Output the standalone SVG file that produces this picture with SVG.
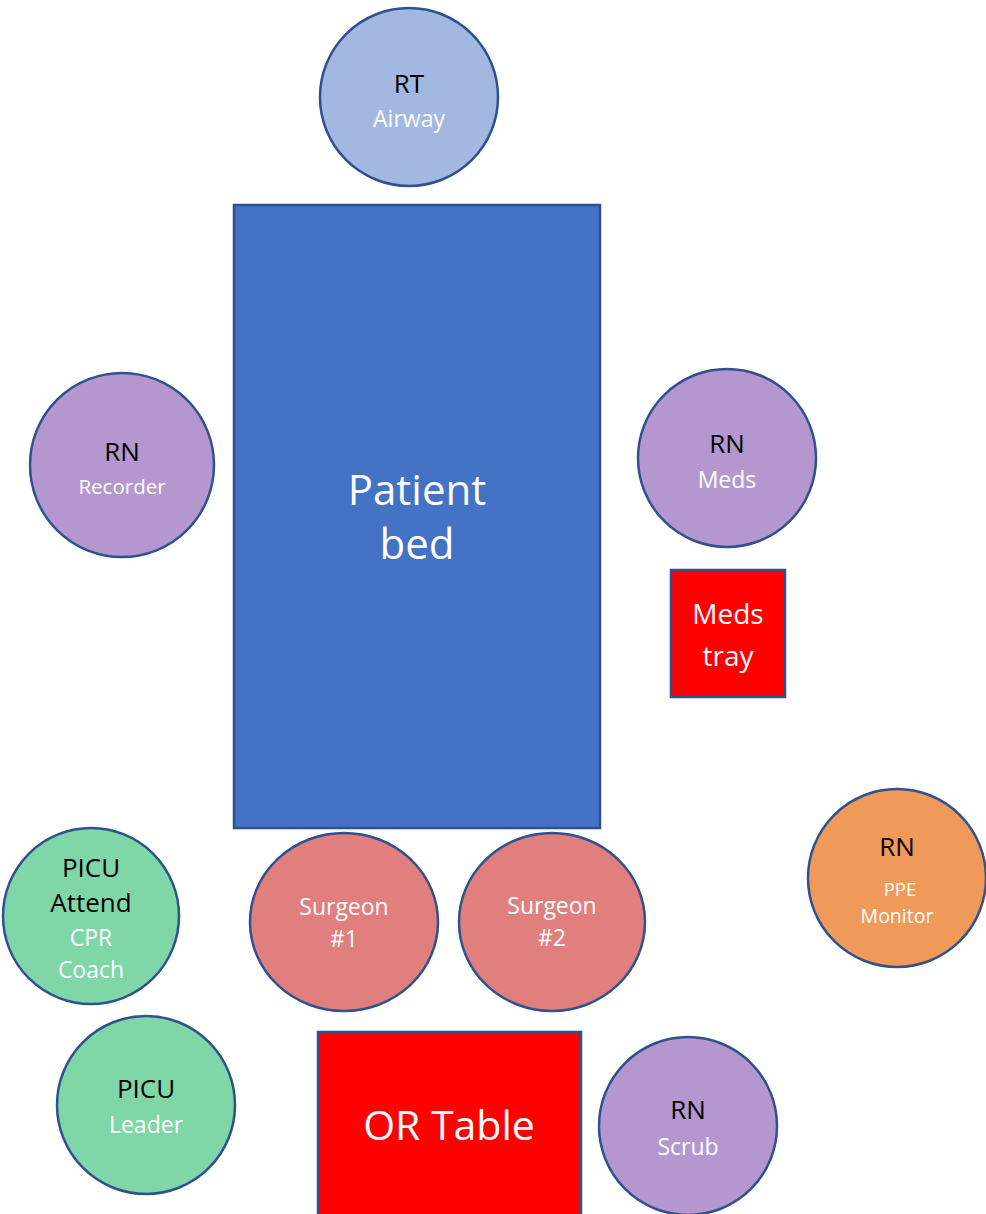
<svg xmlns="http://www.w3.org/2000/svg" width="986" height="1214" viewBox="0 0 986 1214">
<style>
.n{stroke:#2F528F;stroke-width:2.5}
text{font-family:"Open Sans","Noto Sans","Liberation Sans",sans-serif;text-anchor:middle}
.k{fill:#000}
.w{fill:#fff}
</style>
<rect width="986" height="1214" fill="#fff"/>
<g id="connectors"></g>
<g id="rt"><circle class="n" cx="409" cy="97" r="89" fill="#A2B8E0"/><text class="k" x="409" y="93" font-size="26">RT</text><text class="w" x="409" y="127" font-size="23">Airway</text></g>
<g id="bed"><rect class="n" x="234" y="205" width="366" height="623" fill="#4472C4"/><text class="w" x="417" y="505" font-size="42">Patient</text><text class="w" x="417" y="559" font-size="42">bed</text></g>
<g id="recorder"><circle class="n" cx="122" cy="465" r="92" fill="#B597CF"/><text class="k" x="122" y="461" font-size="26">RN</text><text class="w" x="122" y="494" font-size="20.5">Recorder</text></g>
<g id="meds"><circle class="n" cx="727" cy="458" r="89" fill="#B597CF"/><text class="k" x="727" y="453" font-size="26">RN</text><text class="w" x="727" y="488" font-size="23">Meds</text></g>
<g id="tray"><rect class="n" x="671" y="570" width="114" height="127" fill="#FF0000"/><text class="w" x="728" y="624" font-size="28">Meds</text><text class="w" x="728" y="666" font-size="28">tray</text></g>
<g id="ppe"><circle class="n" cx="897" cy="878" r="89" fill="#F09A5A"/><text class="k" x="897" y="856" font-size="26">RN</text><text class="w" x="900" y="896" font-size="18.5">PPE</text><text class="w" x="897" y="923" font-size="19.5">Monitor</text></g>
<g id="attend"><circle class="n" cx="91" cy="916" r="88" fill="#7FD6A6"/><text class="k" x="91" y="877" font-size="26">PICU</text><text class="k" x="91" y="912" font-size="26">Attend</text><text class="w" x="91" y="946" font-size="23">CPR</text><text class="w" x="91" y="978" font-size="23">Coach</text></g>
<g id="surgeon1"><ellipse class="n" cx="344" cy="922" rx="94" ry="89" fill="#E07F7D"/><text class="w" x="344" y="915" font-size="23">Surgeon</text><text class="w" x="344" y="947" font-size="23">#1</text></g>
<g id="surgeon2"><ellipse class="n" cx="552" cy="922" rx="93" ry="89" fill="#E07F7D"/><text class="w" x="552" y="914" font-size="23">Surgeon</text><text class="w" x="552" y="946" font-size="23">#2</text></g>
<g id="leader"><circle class="n" cx="146" cy="1105" r="89" fill="#7FD6A6"/><text class="k" x="146" y="1098" font-size="26">PICU</text><text class="w" x="146" y="1133" font-size="23">Leader</text></g>
<g id="ortable"><rect class="n" x="318" y="1032" width="263" height="200" fill="#FF0000"/><text class="w" x="449" y="1140" font-size="41">OR Table</text></g>
<g id="scrub"><circle class="n" cx="688" cy="1126" r="89" fill="#B597CF"/><text class="k" x="688" y="1119" font-size="26">RN</text><text class="w" x="688" y="1155" font-size="23">Scrub</text></g>
</svg>
